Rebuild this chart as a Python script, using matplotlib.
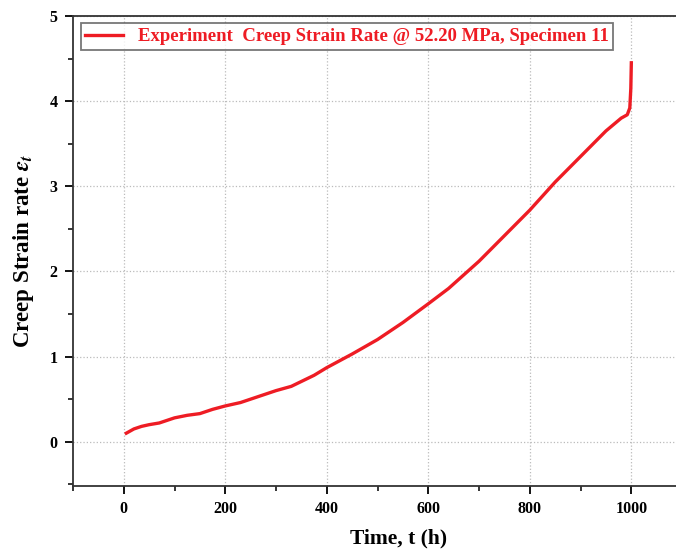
import numpy as np
import matplotlib.pyplot as plt
from matplotlib.ticker import MultipleLocator

# creep strain rate readings
time_h = [5, 20, 35, 50, 70, 85, 100, 125, 150, 175, 200, 230, 260, 300, 330,
          375, 400, 450, 500, 550, 600, 640, 700, 750, 800, 850, 900, 950,
          980, 992, 997, 999, 1000]
strain_rate = [0.10, 0.15, 0.18, 0.20, 0.22, 0.25, 0.28, 0.31, 0.33, 0.38, 0.42,
               0.46, 0.52, 0.60, 0.65, 0.78, 0.87, 1.03, 1.20, 1.40, 1.62, 1.80,
               2.12, 2.42, 2.72, 3.05, 3.35, 3.65, 3.80, 3.84, 3.92, 4.15, 4.45]

plt.rcParams['font.family'] = ['Liberation Serif', 'DejaVu Serif']
plt.rcParams['font.weight'] = 'bold'
plt.rcParams['mathtext.fontset'] = 'stix'

fig = plt.figure(figsize=(6.76, 5.51), dpi=100)
# right spine sits just past the figure edge, as in the reference crop
ax = fig.add_axes([0.108, 0.118, 0.901, 0.853])

ax.plot(time_h, strain_rate, color='#ee1c24', lw=2.4,
        label='Experiment  Creep Strain Rate @ 52.20 MPa, Specimen 11')

ax.set_xlim(-100, 1100)
ax.set_ylim(-0.52, 5)
ax.xaxis.set_major_locator(MultipleLocator(200))
ax.xaxis.set_minor_locator(MultipleLocator(100))
ax.yaxis.set_major_locator(MultipleLocator(1))
ax.yaxis.set_minor_locator(MultipleLocator(0.5))
ax.tick_params(which='major', direction='out', length=6, width=1.3, labelsize=11.5, pad=5)
ax.tick_params(which='minor', direction='out', length=3.5, width=1.1)
ax.grid(True, which='major', color='#bbbbbb', linestyle=':', lw=0.9)
ax.spines['right'].set_visible(False)
for s in ['left', 'bottom', 'top']:
    ax.spines[s].set_linewidth(1.3)
    ax.spines[s].set_color('#333333')

ax.set_xlabel('Time, t (h)', fontsize=15.5, fontweight='bold')
ax.xaxis.label.set_va('center')
ax.xaxis.set_label_coords(0.534, -0.111)
ax.set_ylabel(r'Creep Strain rate $\varepsilon_t$', fontsize=16.5, fontweight='bold', labelpad=10)

leg = ax.legend(loc='upper left', fontsize=13.5, frameon=True, fancybox=False,
                handlelength=2.0, borderaxespad=0.4, borderpad=0.25, labelcolor='#ee1c24')
leg.get_frame().set_edgecolor('#555555')
leg.get_frame().set_linewidth(1.3)

fig.savefig('out.png', dpi=100)
